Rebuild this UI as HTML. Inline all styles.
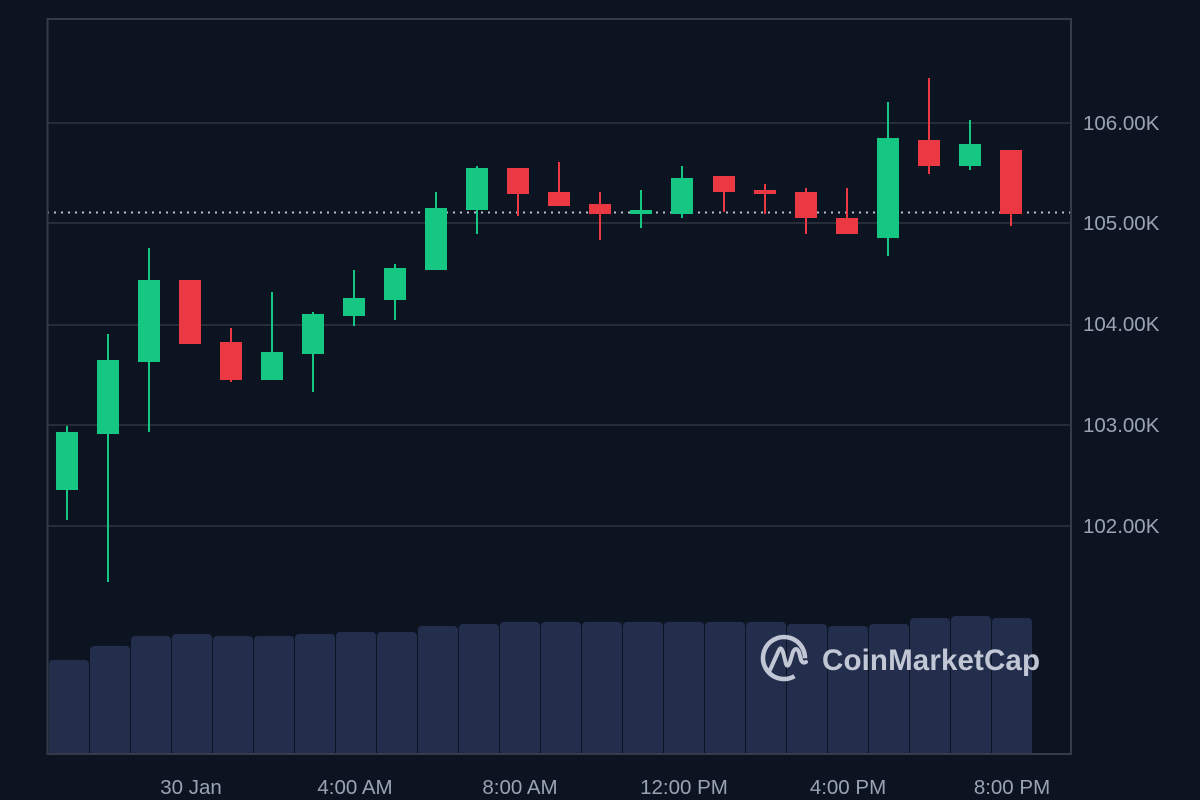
<!DOCTYPE html>
<html><head><meta charset="utf-8"><style>
html,body{margin:0;padding:0;background:#0d1421;}
svg{display:block;}
text{font-family:"Liberation Sans",sans-serif;}
</style></head><body>
<svg width="1200" height="800" viewBox="0 0 1200 800" xmlns="http://www.w3.org/2000/svg">
<rect width="1200" height="800" fill="#0d1421"/>
<g stroke="#262c38" stroke-width="2">
<line x1="47" y1="123" x2="1071" y2="123"/>
<line x1="47" y1="223" x2="1071" y2="223"/>
<line x1="47" y1="325" x2="1071" y2="325"/>
<line x1="47" y1="425" x2="1071" y2="425"/>
<line x1="47" y1="526" x2="1071" y2="526"/>
</g>
<g fill="#232d4c" id="vol"></g>
<g id="wm" opacity="0.9">
<circle cx="784" cy="658" r="21" fill="none" stroke="#d3d8e3" stroke-width="4.5" stroke-dasharray="110 22" transform="rotate(60 784 658)"/>
<path d="M770 670 L779 650 Q781 646 783 652 L786 664 Q788 668 790 662 L793 652 Q796 646 799 652 L801 660 Q803 664 806 662" fill="none" stroke="#d3d8e3" stroke-width="4" stroke-linecap="round" stroke-linejoin="round"/>
<text x="822" y="670" font-size="29.5" font-weight="bold" fill="#d3d8e3" textLength="218">CoinMarketCap</text>
</g>
<line x1="47" y1="212.5" x2="1071" y2="212.5" stroke="#b8bfcc" stroke-width="2" stroke-dasharray="2 5"/>
<g id="candles"></g>
<path d="M47.5 754 L47.5 19 L1071 19 L1071 754 Z" fill="none" stroke="#353b47" stroke-width="2"/>
<line x1="47" y1="754" x2="1071" y2="754" stroke="#353b47" stroke-width="2"/>
<g fill="#9aa3b4" font-size="20.5">
<text x="1083" y="130">106.00K</text>
<text x="1083" y="230">105.00K</text>
<text x="1083" y="331">104.00K</text>
<text x="1083" y="432">103.00K</text>
<text x="1083" y="533">102.00K</text>
</g>
<g fill="#9aa3b4" font-size="20.5" text-anchor="middle">
<text x="191" y="794">30 Jan</text>
<text x="355" y="794">4:00 AM</text>
<text x="520" y="794">8:00 AM</text>
<text x="684" y="794">12:00 PM</text>
<text x="848" y="794">4:00 PM</text>
<text x="1012" y="794">8:00 PM</text>
</g>
</svg>
<script>
var G="#16c784",R="#ea3943";
var c=[
[67,432,490,426,520,G],[108,360,434,334,582,G],[149,280,362,248,432,G],[190,280,344,280,344,R],
[231,342,380,328,382,R],[272,352,380,292,380,G],[313,314,354,312,392,G],[354,298,316,270,326,G],
[395,268,300,264,320,G],[436,208,270,192,270,G],[477,168,210,166,234,G],[518,168,194,168,216,R],
[559,192,206,162,206,R],[600,204,214,192,240,R],[641,210,214,190,228,G],[682,178,214,166,218,G],
[724,176,192,176,212,R],[765,190,194,184,214,R],[806,192,218,188,234,R],[847,218,234,188,234,R],
[888,138,238,102,256,G],[929,140,166,78,174,R],[970,144,166,120,170,G],[1011,150,214,150,226,R]];
var v=[660,646,636,634,636,636,634,632,632,626,624,622,622,622,622,622,622,622,624,626,624,618,616,618];
var ns="http://www.w3.org/2000/svg",cg=document.getElementById("candles"),vg=document.getElementById("vol");
function el(t,a,p){var e=document.createElementNS(ns,t);for(var k in a)e.setAttribute(k,a[k]);p.appendChild(e);}
v.forEach(function(y,i){el("rect",{x:49+i*41,y:y,width:40,height:760-y,rx:4},vg);});
el("rect",{x:40,y:754,width:1040,height:10,fill:"#0d1421"},vg);
c.forEach(function(d){el("rect",{x:d[0]-1,y:d[3],width:2,height:d[4]-d[3],fill:d[5]},cg);
el("rect",{x:d[0]-11,y:d[1],width:22,height:Math.max(3,d[2]-d[1]),fill:d[5]},cg);});
</script>
</body></html>
